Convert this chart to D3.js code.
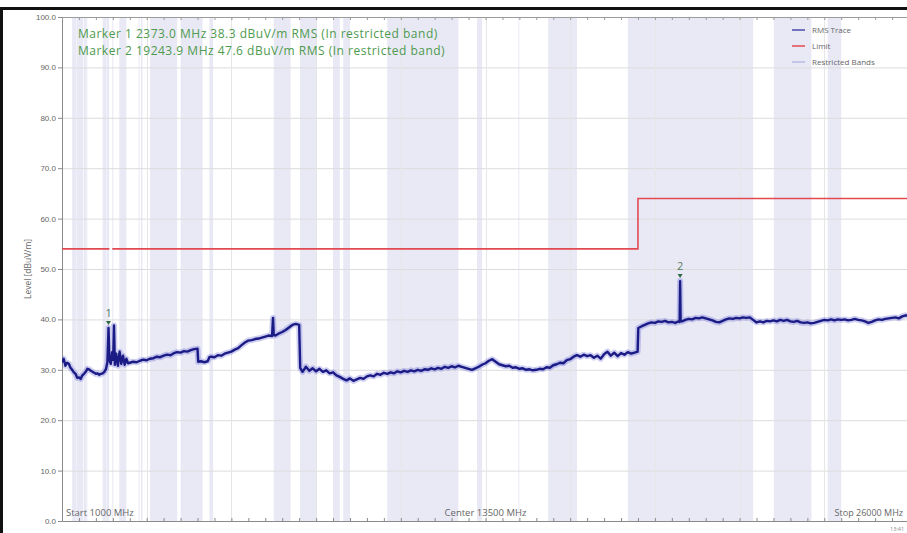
<!DOCTYPE html>
<html>
<head>
<meta charset="utf-8">
<script src="https://cdn.jsdelivr.net/npm/d3@7"></script>
<style>
  html, body { margin: 0; padding: 0; background: #fff; }
  svg { display: block; font-family: "Open Sans", "Noto Sans", sans-serif; }
</style>
</head>
<body>
<svg id="chart" width="907" height="533"></svg>
<script>
// ---- data ----
const freqStart = 1000, freqCenter = 13500, freqStop = 26000;   // MHz
const levelTicks = [0, 10, 20, 30, 40, 50, 60, 70, 80, 90, 100];  // dBuV/m

// Restricted bands [fromMHz, toMHz]
const restrictedBands = [
  [1300, 1427], [1435, 1626.5], [1645.5, 1646.5], [1660, 1710], [1718.8, 1722.2],
  [2200, 2300], [2310, 2390], [2483.5, 2500], [2690, 2900], [3260, 3267],
  [3332, 3339], [3345.8, 3358], [3600, 4400], [4500, 5150], [5350, 5460],
  [7250, 7750], [8025, 8500], [9000, 9200], [9300, 9500], [10600, 12700],
  [13250, 13400], [14470, 14500], [15350, 16200], [17700, 21400],
  [22010, 23120], [23600, 24000]
];

// Limit line [MHz, dBuV/m]; null level = no limit drawn (operating band)
const limitLine = [
  [1000, 54], [2400, 54], [2400, null], [2483.5, null], [2483.5, 54],
  [18000, 54], [18000, 64], [26000, 64]
];

// RMS trace [MHz, dBuV/m]
const rmsTrace = [
  [1000,31.5],[1050,32.2],[1100,30.8],[1150,31.4],[1200,31.2],[1250,30.4],[1300,30.0],[1350,29.5],
  [1400,29.2],[1450,28.4],[1500,28.5],[1550,28.2],[1600,28.9],[1650,29.2],[1700,29.6],[1750,30.2],
  [1800,30.1],[1850,29.8],[1900,29.6],[1950,29.4],[2000,29.2],[2050,29.3],[2100,29.0],[2150,29.2],
  [2200,29.3],[2250,29.6],[2300,30.2],[2340,31.5],[2373,38.3],[2400,32.0],[2440,31.2],[2480,33.5],
  [2510,32.0],[2535,38.8],[2560,31.0],[2600,33.2],[2650,30.8],[2700,33.6],[2750,31.2],[2800,32.8],
  [2850,31.0],[2900,32.2],[2950,31.3],[3000,31.4],[3100,31.6],[3200,31.5],[3300,31.8],[3400,32.0],
  [3500,31.9],[3600,32.2],[3700,32.3],[3800,32.6],[3900,32.5],[4000,32.8],[4100,33.0],[4200,32.9],
  [4300,33.3],[4400,33.5],[4500,33.4],[4600,33.7],[4700,33.6],[4800,33.9],[4900,34.1],[5000,34.2],
  [5020,31.6],[5100,31.7],[5200,31.5],[5300,31.7],[5350,32.5],[5400,32.6],[5500,32.5],[5600,32.9],
  [5700,32.8],[5800,33.2],[5900,33.4],[6000,33.6],[6100,34.0],[6200,34.3],[6300,34.9],[6400,35.4],
  [6500,35.8],[6600,35.9],[6700,36.1],[6800,36.2],[6900,36.4],[7000,36.6],[7100,36.8],[7200,36.7],
  [7228,40.3],[7250,36.9],[7300,36.8],[7400,37.2],[7500,37.5],[7600,37.9],[7700,38.4],[7800,38.9],
  [7900,39.1],[8000,38.9],[8030,30.4],[8100,29.6],[8200,30.6],[8300,29.8],[8400,30.3],[8500,29.7],
  [8600,30.2],[8700,29.6],[8800,29.9],[8900,29.3],[9000,29.5],[9100,28.9],[9200,28.6],[9300,28.2],
  [9400,27.9],[9500,28.3],[9600,27.8],[9700,28.1],[9800,28.4],[9900,28.2],[10000,28.7],[10100,28.9],
  [10200,28.7],[10300,29.2],[10400,29.0],[10500,29.4],[10600,29.2],[10700,29.5],[10800,29.3],[10900,29.7],
  [11000,29.5],[11100,29.8],[11200,29.6],[11300,29.9],[11400,29.7],[11500,30.0],[11600,29.8],[11700,30.1],
  [11800,30.0],[11900,30.3],[12000,30.1],[12100,30.4],[12200,30.2],[12300,30.6],[12400,30.4],[12500,30.7],
  [12600,30.5],[12700,30.8],[12800,30.6],[12900,30.4],[13000,30.2],[13100,30.0],[13200,30.3],[13300,30.6],
  [13400,31.0],[13500,31.3],[13600,31.8],[13700,32.1],[13800,31.6],[13900,31.1],[14000,30.9],[14100,30.7],
  [14200,30.8],[14300,30.4],[14400,30.5],[14500,30.2],[14600,30.3],[14700,30.0],[14800,30.1],[14900,29.9],
  [15000,30.0],[15100,30.2],[15200,30.1],[15300,30.5],[15400,30.4],[15500,30.9],[15600,31.1],[15700,31.4],
  [15800,31.3],[15900,31.9],[16000,32.1],[16100,32.6],[16200,32.9],[16300,32.6],[16400,33.0],[16500,32.7],
  [16600,32.9],[16700,32.4],[16800,32.8],[16900,32.2],[17000,33.1],[17100,33.6],[17200,32.8],[17300,33.4],
  [17400,32.7],[17500,33.3],[17600,33.0],[17700,33.5],[17800,33.2],[17900,33.4],[17990,33.6],[18010,38.3],
  [18100,38.6],[18200,38.9],[18300,39.2],[18400,39.4],[18500,39.3],[18600,39.6],[18700,39.5],[18800,39.7],
  [18900,39.4],[19000,39.5],[19100,39.3],[19200,39.6],[19230,39.5],[19243.9,47.6],[19260,39.6],[19300,39.6],
  [19400,39.9],[19500,40.1],[19600,40.0],[19700,40.3],[19800,40.2],[19900,40.4],[20000,40.2],[20100,40.0],
  [20200,39.8],[20300,39.5],[20400,39.4],[20500,39.7],[20600,40.0],[20700,40.2],[20800,40.1],[20900,40.3],
  [21000,40.2],[21100,40.4],[21200,40.3],[21300,40.4],[21400,39.9],[21500,39.4],[21600,39.6],[21700,39.4],
  [21800,39.7],[21900,39.6],[22000,39.8],[22100,39.6],[22200,39.9],[22300,39.7],[22400,39.9],[22500,39.6],
  [22600,39.5],[22700,39.7],[22800,39.4],[22900,39.3],[23000,39.4],[23100,39.2],[23200,39.3],[23300,39.5],
  [23400,39.7],[23500,39.9],[23600,39.8],[23700,40.0],[23800,39.8],[23900,40.0],[24000,39.9],[24100,40.0],
  [24200,39.8],[24300,39.9],[24400,40.1],[24500,39.9],[24600,39.8],[24700,39.6],[24800,39.3],[24900,39.5],
  [25000,39.8],[25100,40.0],[25200,39.9],[25300,40.1],[25400,40.2],[25500,40.3],[25600,40.4],[25700,40.2],
  [25800,40.6],[25900,40.8],[26000,40.7]
];

// Markers
const markerIds = [1, 2];
const markerFreqs = [2373.0, 19243.9];
const markerLevels = [38.3, 47.6];

// Legend
const legendLabels = ["RMS Trace", "Limit", "Restricted Bands"];
const legendColors = ["#4a4aa8", "#e24a52", "#b9b9e6"];

// ---- drawing ----
const svg = d3.select("#chart");
const W = 907, H = 533;
const plot = { left: 62, top: 17, right: 909, bottom: 521 };

const x = d3.scaleLinear().domain([freqStart, freqStop]).range([plot.left, plot.right]);
const y = d3.scaleLinear().domain([0, 100]).range([plot.bottom, plot.top]);

svg.append("rect").attr("width", W).attr("height", H).attr("fill", "#fff");

svg.append("defs").append("clipPath").attr("id", "plotClip")
  .append("rect").attr("x", plot.left).attr("y", plot.top)
  .attr("width", plot.right - plot.left).attr("height", plot.bottom - plot.top);

// restricted bands
svg.append("g").selectAll("rect").data(restrictedBands).join("rect")
  .attr("x", d => x(d[0]))
  .attr("y", plot.top)
  .attr("width", d => Math.max(1, x(d[1]) - x(d[0])))
  .attr("height", plot.bottom - plot.top)
  .attr("fill", "#e9e9f6");

// horizontal grid
svg.append("g").selectAll("line").data(levelTicks.filter(t => t > 0)).join("line")
  .attr("x1", plot.left).attr("x2", plot.right)
  .attr("y1", d => y(d) + 0.5).attr("y2", d => y(d) + 0.5)
  .attr("stroke", "#dcdcdc").attr("stroke-width", 1);

// vertical grid (10 divisions)
const xGrid = d3.range(1, 10).map(i => freqStart + i * (freqStop - freqStart) / 10);
svg.append("g").selectAll("line").data(xGrid).join("line")
  .attr("x1", d => Math.round(x(d)) + 0.5).attr("x2", d => Math.round(x(d)) + 0.5)
  .attr("y1", plot.top).attr("y2", plot.bottom)
  .attr("stroke", "#e6e6e6").attr("stroke-width", 1);

// axes
const yAxis = d3.axisLeft(y).tickValues(levelTicks).tickFormat(d3.format(".1f")).tickSize(4);
const gy = svg.append("g").attr("transform", `translate(${plot.left},0)`).call(yAxis);
gy.select(".domain").attr("stroke", "#8a8a8a");
gy.selectAll(".tick line").attr("stroke", "#8a8a8a");
gy.selectAll(".tick text").attr("fill", "#666").attr("font-size", 8).attr("x", -6);

const xMinor = d3.range(freqStart, freqStop + 1, 500);
const xAxisB = d3.axisBottom(x).tickValues(xMinor).tickFormat("").tickSize(-3).tickSizeOuter(0);
const gxb = svg.append("g").attr("transform", `translate(0,${plot.bottom})`).call(xAxisB);
gxb.select(".domain").attr("stroke", "#8a8a8a");
gxb.selectAll(".tick line").attr("stroke", "#8a8a8a");
const xAxisT = d3.axisTop(x).tickValues(xMinor).tickFormat("").tickSize(-3).tickSizeOuter(0);
const gxt = svg.append("g").attr("transform", `translate(0,${plot.top})`).call(xAxisT);
gxt.select(".domain").attr("stroke", "#9a9a9a");
gxt.selectAll(".tick line").attr("stroke", "#9a9a9a");

// y axis title
svg.append("text")
  .attr("transform", `translate(31,${(plot.top + plot.bottom) / 2}) rotate(-90)`)
  .attr("text-anchor", "middle").attr("font-size", 8.5).attr("fill", "#666")
  .text("Level [dBuV/m]");

// limit line
const limitPath = d3.line().defined(d => d[1] !== null).x(d => x(d[0])).y(d => y(d[1]));
svg.append("path").datum(limitLine)
  .attr("d", limitPath).attr("fill", "none")
  .attr("stroke", "#e24a52").attr("stroke-width", 1.6);

// RMS trace: soft envelope + core
const tracePath = d3.line().x(d => x(d[0])).y(d => y(d[1]));
const traceG = svg.append("g").attr("clip-path", "url(#plotClip)");
traceG.append("path").datum(rmsTrace)
  .attr("d", tracePath).attr("fill", "none")
  .attr("stroke", "#5c5cd0").attr("stroke-opacity", 0.3).attr("stroke-width", 6)
  .attr("stroke-linejoin", "round");
traceG.append("path").datum(rmsTrace)
  .attr("d", tracePath).attr("fill", "none")
  .attr("stroke", "#1b1b86").attr("stroke-width", 2.4)
  .attr("stroke-linejoin", "round");

// markers
const markers = markerIds.map((id, i) => ({ id, f: markerFreqs[i], v: markerLevels[i] }));
const mg = svg.append("g").selectAll("g").data(markers).join("g")
  .attr("transform", d => `translate(${x(d.f)},${y(d.v)})`);
mg.append("path").attr("d", "M-2.5,-7 L2.5,-7 L0,-3 Z").attr("fill", "#2f6a45");
mg.append("text").attr("y", -11).attr("text-anchor", "middle")
  .attr("font-size", 11).attr("fill", "#557a60").text(d => d.id);

// marker readout
svg.append("g").selectAll("text").data(markers).join("text")
  .attr("x", 78).attr("y", (d, i) => 38 + i * 16.5)
  .attr("font-size", 12).attr("letter-spacing", 0.5).attr("fill", "#4e9a4e")
  .text(d => `Marker ${d.id} ${d.f.toFixed(1)} MHz ${d.v.toFixed(1)} dBuV/m RMS (In restricted band)`);

// legend
const lg = svg.append("g").selectAll("g").data(legendLabels).join("g")
  .attr("transform", (d, i) => `translate(792,${30 + i * 16})`);
lg.append("line").attr("x1", 0).attr("x2", 13).attr("y1", 0).attr("y2", 0)
  .attr("stroke", (d, i) => legendColors[i]).attr("stroke-width", 1.5);
lg.append("text").attr("x", 20).attr("y", 3).attr("font-size", 8).attr("fill", "#666").text(d => d);

// frequency annotations
svg.append("text").attr("x", 66).attr("y", 516).attr("font-size", 9.5).attr("fill", "#666")
  .text(`Start ${freqStart} MHz`);
svg.append("text").attr("x", x(freqCenter)).attr("y", 516).attr("text-anchor", "middle")
  .attr("font-size", 9.5).attr("fill", "#666").text(`Center ${freqCenter} MHz`);
svg.append("text").attr("x", 903).attr("y", 516).attr("text-anchor", "end")
  .attr("font-size", 9).attr("fill", "#666").text(`Stop ${freqStop} MHz`);
svg.append("text").attr("x", 890).attr("y", 531).attr("font-size", 5.5).attr("fill", "#888")
  .text("13:41");

// window frame
svg.append("rect").attr("x", 0).attr("y", 7).attr("width", W).attr("height", 3).attr("fill", "#111");
svg.append("rect").attr("x", 0).attr("y", 7).attr("width", 3).attr("height", H - 7).attr("fill", "#111");
</script>
</body>
</html>
